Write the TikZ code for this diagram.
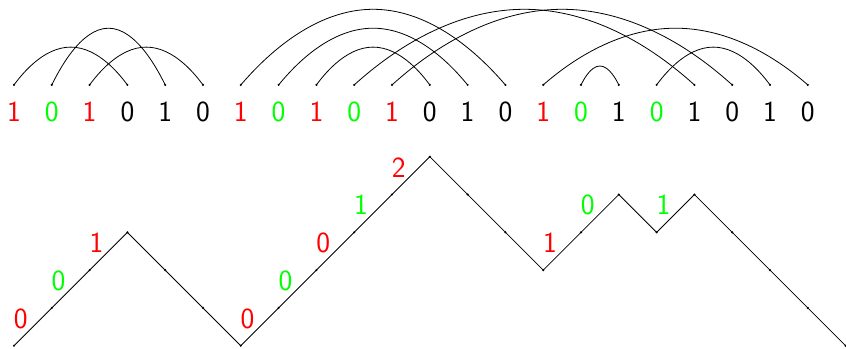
\documentclass[tikz,border=0pt]{standalone}
\usetikzlibrary{calc}

\begin{document}
\begin{tikzpicture}[
    font=\sffamily\fontsize{22}{26}\selectfont,
    every node/.style={inner sep=0pt},
    arc/.style={line width=0.6pt},
    path line/.style={line width=0.6pt, line join=miter},
    lab/.style={inner sep=0pt},
]
\useasboundingbox (-0.37,-0.06) rectangle (22.01,9.146);

% --- Top row: the word, one end point above each letter ---
\foreach \i/\d/\c in {0/1/red, 1/0/green, 2/1/red, 3/0/black, 4/1/black, 5/0/black,
    6/1/red, 7/0/green, 8/1/red, 9/0/green, 10/1/red, 11/0/black, 12/1/black, 13/0/black,
    14/1/red, 15/0/green, 16/1/black, 17/0/green, 18/1/black, 19/0/black, 20/1/black, 21/0/black} {
  \coordinate (t\i) at (\i,6.9);
  \node[text=\c] (d\i) at (\i,6.18) {\d};
}

% --- Arcs of the matching (start/end/height) ---
\foreach \a/\b/\h in {0/3/1, 1/4/1.5, 2/5/1,
    6/13/2, 7/12/1.5, 8/11/1, 9/18/2, 10/19/2,
    14/21/1.5, 15/16/0.5, 17/20/1} {
  \draw[arc] (t\a) parabola bend ($(t\a)!.5!(t\b)+(0,\h)$) (t\b);
}
\foreach \i in {0,...,21} \fill (t\i) circle (0.9pt);

% --- Lattice path below ---
\foreach \k/\y in {0/0, 1/1, 2/2, 3/3, 4/2, 5/1, 6/0, 7/1, 8/2, 9/3, 10/4, 11/5,
    12/4, 13/3, 14/2, 15/3, 16/4, 17/3, 18/4, 19/3, 20/2, 21/1, 22/0}
  \coordinate (p\k) at (\k,\y);
\draw[path line] (p0) \foreach \k in {1,...,22} { -- (p\k) };
\foreach \k in {0,...,22} \fill (p\k) circle (0.9pt);

% --- Step labels, coloured as the letters above ---
\foreach \k/\v/\c in {0/0/red, 1/0/green, 2/1/red,
    6/0/red, 7/0/green, 8/0/red, 9/1/green, 10/2/red,
    14/1/red, 15/0/green, 17/1/green}
  \node[lab, text=\c] (l\k) at ($(p\k)+(0.18,0.72)$) {\v};

\end{tikzpicture}
\end{document}
